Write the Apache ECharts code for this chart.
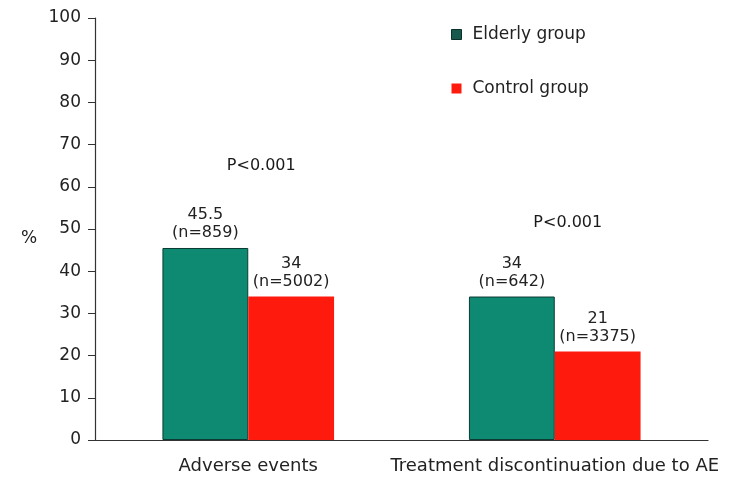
<!DOCTYPE html>
<html><head><meta charset="utf-8">
<script src="https://cdn.jsdelivr.net/npm/echarts@6/dist/echarts.min.js"></script>
<style>html,body{margin:0;padding:0;background:#fff}#c{width:738px;height:479px}</style>
</head><body><div id="c"></div>
<script>
const categories = ['Adverse events', 'Treatment discontinuation due to AE'];
const elderlyValues = [45.5, 34];
const elderlyN = [859, 642];
const controlValues = [34, 21];
const controlN = [5002, 3375];
const pTexts = ['P<0.001', 'P<0.001'];
const pLevels = [65, 51.5];
const yTicks = [0, 10, 20, 30, 40, 50, 60, 70, 80, 90, 100];
const yAxisTitle = '%';

const font = 'DejaVu Sans';
const chart = echarts.init(document.getElementById('c'));
const labelStyle = {
  show: true, position: 'top', distance: 6, color: '#222', fontFamily: font, fontSize: 16, lineHeight: 18
};
chart.setOption({
  animation: false,
  textStyle: { fontFamily: font },
  grid: { left: 95, right: 30, top: 18, bottom: 39 },
  graphic: [{
    type: 'text', left: 21, top: 230,
    style: { text: yAxisTitle, fill: '#222', font: '17px "DejaVu Sans"' }
  }],
  legend: {
    orient: 'vertical', left: 446, top: 21, itemWidth: 10, itemHeight: 10, itemGap: 37,
    icon: 'rect',
    textStyle: { fontFamily: font, fontSize: 17, color: '#222', padding: [0, 0, 0, 6] },
    data: [
      { name: 'Elderly group', itemStyle: { color: '#17594d', borderColor: '#0b2f29', borderWidth: 1 } },
      { name: 'Control group', itemStyle: { color: '#ff1a0e', borderWidth: 0 } }
    ]
  },
  xAxis: {
    type: 'category', data: categories,
    axisLine: { lineStyle: { color: '#333', width: 1.2 } },
    axisTick: { show: false },
    axisLabel: { color: '#222', fontSize: 18, margin: 17, fontFamily: font, interval: 0 }
  },
  yAxis: {
    type: 'value', min: yTicks[0], max: yTicks[yTicks.length - 1], interval: 10,
    axisLine: { show: true, lineStyle: { color: '#333', width: 1.2 } },
    axisTick: { show: true, length: 7, lineStyle: { color: '#333' } },
    axisLabel: { color: '#222', fontSize: 17, margin: 14, fontFamily: font },
    splitLine: { show: false }
  },
  series: [
    {
      name: 'Elderly group', type: 'bar', barGap: '0%', barCategoryGap: '44%',
      data: elderlyValues,
      itemStyle: { color: '#0f8a72', borderColor: '#0b3b33', borderWidth: 1 },
      label: Object.assign({}, labelStyle, {
        formatter: p => p.value + '\n(n=' + elderlyN[p.dataIndex] + ')'
      })
    },
    {
      name: 'Control group', type: 'bar',
      data: controlValues,
      itemStyle: { color: '#ff1a0e' },
      label: Object.assign({}, labelStyle, {
        formatter: p => p.value + '\n(n=' + controlN[p.dataIndex] + ')'
      })
    },
    {
      name: 'P', type: 'scatter', symbolSize: 0, silent: true,
      itemStyle: { opacity: 1 },
      data: pLevels.map((v, i) => [i, v]),
      label: {
        show: true, position: 'inside', color: '#1a1a1a', fontFamily: font, fontSize: 16,
        textBorderWidth: 0, offset: [13, 0],
        formatter: p => pTexts[p.dataIndex]
      }
    }
  ]
});
</script></body></html>
